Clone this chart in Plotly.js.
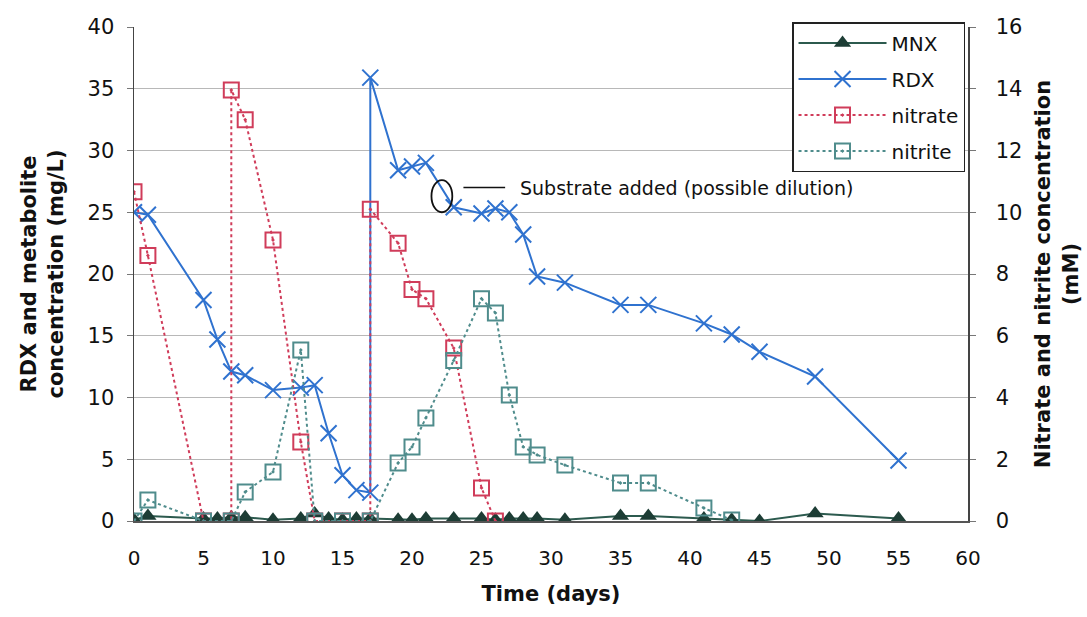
<!DOCTYPE html>
<html>
<head>
<meta charset="utf-8">
<script src="https://cdn.plot.ly/plotly-3.0.1.min.js"></script>
<style>html,body{margin:0;padding:0;background:#fff}#chart{width:1087px;height:617px}</style>
</head>
<body>
<div id="chart"></div>
<script>
// MNX (mg/L, left axis)
const mnxDays = [0,1,5,6,7,8,10,12,13,14,15,16,17,19,20,21,23,25,26,27,28,29,31,35,37,41,43,45,49,55];
const mnxConc = [0.1,0.4,0.2,0.2,0.3,0.3,0.1,0.2,0.6,0.2,0.1,0.2,0.2,0.1,0.1,0.2,0.2,0.2,0.1,0.2,0.2,0.2,0.1,0.4,0.4,0.2,0.1,0.0,0.6,0.2];
// RDX (mg/L, left axis)
const rdxDays = [0,1,5,6,7,8,10,12,13,14,15,16,17,17,19,20,21,23,25,26,27,28,29,31,35,37,41,43,45,49,55];
const rdxConc = [25.0,24.8,17.9,14.7,12.1,11.8,10.6,10.8,11.0,7.1,3.7,2.5,2.3,35.9,28.4,28.7,29.0,25.4,24.9,25.3,25.0,23.2,19.8,19.3,17.5,17.5,16.0,15.1,13.7,11.7,4.9];
// Nitrate (mM, right axis)
const nitrateDays = [0,1,5,7,7,8,10,12,13,15,17,17,19,20,21,23,25,26];
const nitrateConc = [10.66,8.6,0,0,13.96,13.0,9.1,2.56,0,0,0,10.1,9.0,7.5,7.2,5.6,1.07,0];
// Nitrite (mM, right axis)
const nitriteDays = [0,1,5,7,8,10,12,13,15,17,19,20,21,23,25,26,27,28,29,31,35,37,41,43];
const nitriteConc = [0,0.68,0,0,0.94,1.59,5.54,0,0,0,1.88,2.4,3.34,5.2,7.2,6.74,4.08,2.4,2.14,1.81,1.23,1.23,0.42,0.03];

const xTicks = [0,5,10,15,20,25,30,35,40,45,50,55,60];
const yLeftTicks = [0,5,10,15,20,25,30,35,40];
const yRightTicks = [0,2,4,6,8,10,12,14,16];

const FONT = 'DejaVu Sans, Verdana, sans-serif';

const traces = [
  {
    name: 'MNX', legendgroup: 'g1', x: mnxDays, y: mnxConc, type: 'scatter', mode: 'lines+markers',
    line: {color: '#2c5a4e', width: 2},
    marker: {symbol: 'triangle-up', size: 15, color: '#1d3d35', line: {width: 0}},
    yaxis: 'y'
  },
  {
    name: 'RDX', legendgroup: 'g2', x: rdxDays, y: rdxConc, type: 'scatter', mode: 'lines+markers',
    line: {color: '#2f72cf', width: 2},
    marker: {symbol: 'x-thin-open', size: 16, color: '#2f72cf', line: {width: 2, color: '#2f72cf'}},
    yaxis: 'y'
  },
  {
    name: 'nitrate', legendgroup: 'g3', x: nitrateDays, y: nitrateConc, type: 'scatter', mode: 'lines+markers',
    line: {color: '#d03c5a', width: 2, dash: 'dot'},
    marker: {symbol: 'square-open-dot', size: 15, color: '#d03c5a', line: {width: 2, color: '#d03c5a'}},
    yaxis: 'y2'
  },
  {
    name: 'nitrite', legendgroup: 'g4', x: nitriteDays, y: nitriteConc, type: 'scatter', mode: 'lines+markers',
    line: {color: '#4f8c8c', width: 2, dash: 'dot'},
    marker: {symbol: 'square-open-dot', size: 15, color: '#4f8c8c', line: {width: 2, color: '#4f8c8c'}},
    yaxis: 'y2'
  }
];

const layout = {
  width: 1087, height: 617,
  margin: {l: 134, r: 119, t: 27, b: 96},
  paper_bgcolor: '#fff', plot_bgcolor: '#fff',
  font: {family: FONT, size: 20, color: '#111'},
  showlegend: true,
  legend: {
    x: 0.789, y: 1.01, xanchor: 'left', yanchor: 'top',
    bgcolor: '#fff', bordercolor: '#222', borderwidth: 1.5,
    font: {family: FONT, size: 20, color: '#111'},
    itemwidth: 88, tracegroupgap: 7
  },
  xaxis: {
    range: [0, 60], tickvals: xTicks, ticktext: xTicks.map(String),
    showgrid: false, zeroline: false, showline: true, linecolor: '#555', linewidth: 1.5,
    ticks: '', ticklabelstandoff: 18,
    tickfont: {family: FONT, size: 20, color: '#111'},
    title: {text: '<b>Time (days)</b>', font: {family: FONT, size: 21}, standoff: 18}
  },
  yaxis: {
    range: [0, 40], tickvals: yLeftTicks, ticktext: yLeftTicks.map(String),
    showgrid: true, gridcolor: '#b8b8b8', gridwidth: 1, zeroline: false,
    showline: true, linecolor: '#444', linewidth: 1.5, ticks: 'outside', ticklen: 6, tickcolor: '#777',
    ticklabelstandoff: 8,
    tickfont: {family: FONT, size: 21, color: '#111'},
    title: {text: '<b>RDX and metabolite<br>concentration (mg/L)</b>', font: {family: FONT, size: 21}, standoff: 18}
  },
  yaxis2: {
    range: [0, 16], tickvals: yRightTicks, ticktext: yRightTicks.map(String),
    overlaying: 'y', side: 'right', showgrid: false, zeroline: false,
    showline: true, linecolor: '#444', linewidth: 1.5, ticks: 'outside', ticklen: 6, tickcolor: '#777',
    ticklabelstandoff: 16,
    tickfont: {family: FONT, size: 21, color: '#111'},
    title: {text: '<b>Nitrate and nitrite concentration<br>(mM)</b>', font: {family: FONT, size: 21}, standoff: 14}
  },
  shapes: [
    {type: 'circle', xref: 'x', yref: 'y', x0: 21.4, x1: 22.9, y0: 25.0, y1: 27.6,
     line: {color: '#111', width: 1.8}},
    {type: 'line', xref: 'x', yref: 'y', x0: 23.7, x1: 26.7, y0: 27.0, y1: 27.0,
     line: {color: '#111', width: 1.5}}
  ],
  annotations: [
    {xref: 'x', yref: 'y', x: 27.6, y: 27.0, xanchor: 'left', yanchor: 'middle',
     text: 'Substrate added (possible dilution)', showarrow: false,
     font: {family: FONT, size: 19, color: '#111'}}
  ]
};

Plotly.newPlot('chart', traces, layout, {displayModeBar: false, staticPlot: true});
</script>
</body>
</html>
